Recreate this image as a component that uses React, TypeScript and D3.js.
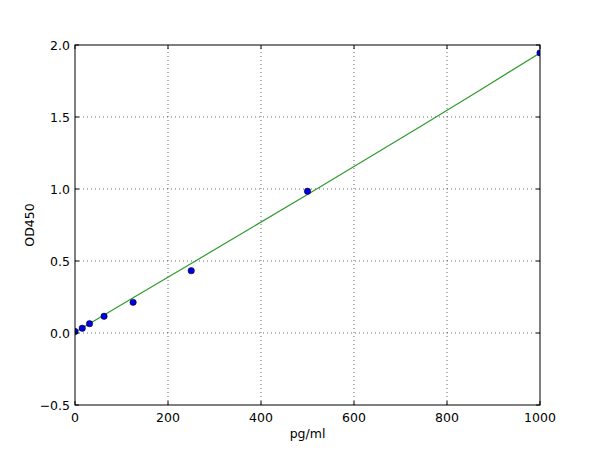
import * as d3 from "d3";

const width = 600;
const height = 450;
const margin = { top: 45, right: 60, bottom: 45, left: 75 };

// measured standards
const concentrations = [0, 15.6, 31.25, 62.5, 125, 250, 500, 1000];
const odValues = [0.01, 0.033, 0.065, 0.116, 0.213, 0.433, 0.984, 1.945];

// fitted curve
const fitX = [0, 125, 250, 375, 500, 625, 750, 875, 1000];
const fitY = [0.005, 0.245, 0.483, 0.722, 0.962, 1.205, 1.448, 1.695, 1.945];

const xTicks = [0, 200, 400, 600, 800, 1000];
const yTicks = [-0.5, 0.0, 0.5, 1.0, 1.5, 2.0];

const font = "'DejaVu Sans', sans-serif";

export default function App() {
  const x = d3
    .scaleLinear()
    .domain([0, 1000])
    .range([margin.left, width - margin.right]);
  const y = d3
    .scaleLinear()
    .domain([-0.5, 2.0])
    .range([height - margin.bottom, margin.top]);

  const line = d3
    .line<number>()
    .x((d) => x(d))
    .y((_, i) => y(fitY[i]));

  const x0 = margin.left;
  const x1 = width - margin.right;
  const y0 = height - margin.bottom;
  const y1 = margin.top;

  return (
    <svg
      width={width}
      height={height}
      style={{ display: "block", position: "absolute", left: 0, top: 0, background: "#fff" }}
      fontFamily={font}
    >
      <rect width={width} height={height} fill="#fff" />
      <defs>
        <clipPath id="plot-clip">
          <rect x={x0} y={y1} width={x1 - x0} height={y0 - y1} />
        </clipPath>
      </defs>
      {/* grid */}
      <g stroke="#000" strokeWidth={0.6} strokeDasharray="1,3">
        {xTicks.slice(1, -1).map((t) => (
          <line key={"gx" + t} x1={x(t)} x2={x(t)} y1={y0} y2={y1} />
        ))}
        {yTicks.slice(1, -1).map((t) => (
          <line key={"gy" + t} x1={x0} x2={x1} y1={y(t)} y2={y(t)} />
        ))}
      </g>
      {/* fit line */}
      <path d={line(fitX) ?? ""} fill="none" stroke="#2f9a2f" strokeWidth={1.2} />
      {/* points */}
      <g clipPath="url(#plot-clip)">
        {concentrations.map((c, i) => (
          <circle key={c} cx={x(c)} cy={y(odValues[i])} r={3.2} fill="#0000e0" stroke="#000" strokeWidth={0.5} />
        ))}
      </g>
      {/* ticks */}
      <g stroke="#000" strokeWidth={1}>
        {xTicks.map((t) => (
          <g key={"tx" + t}>
            <line x1={x(t)} x2={x(t)} y1={y0} y2={y0 - 4} />
            <line x1={x(t)} x2={x(t)} y1={y1} y2={y1 + 4} />
          </g>
        ))}
        {yTicks.map((t) => (
          <g key={"ty" + t}>
            <line x1={x0} x2={x0 + 4} y1={y(t)} y2={y(t)} />
            <line x1={x1} x2={x1 - 4} y1={y(t)} y2={y(t)} />
          </g>
        ))}
      </g>
      {/* frame */}
      <rect x={x0} y={y1} width={x1 - x0} height={y0 - y1} fill="none" stroke="#000" strokeWidth={1} />
      {/* tick labels */}
      <g fontSize={12.5} fill="#000">
        {xTicks.map((t) => (
          <text key={"lx" + t} x={x(t)} y={y0 + 17} textAnchor="middle">
            {t}
          </text>
        ))}
        {yTicks.map((t) => (
          <text key={"ly" + t} x={x0 - 5} y={y(t) + 4.5} textAnchor="end">
            {t < 0 ? "\u2212" + Math.abs(t).toFixed(1) : t.toFixed(1)}
          </text>
        ))}
      </g>
      <text x={(x0 + x1) / 2} y={y0 + 33} textAnchor="middle" fontSize={12.5}>
        pg/ml
      </text>
      <text
        transform={`translate(${x0 - 41}, ${(y0 + y1) / 2}) rotate(-90)`}
        textAnchor="middle"
        fontSize={12.5}
      >
        OD450
      </text>
    </svg>
  );
}
